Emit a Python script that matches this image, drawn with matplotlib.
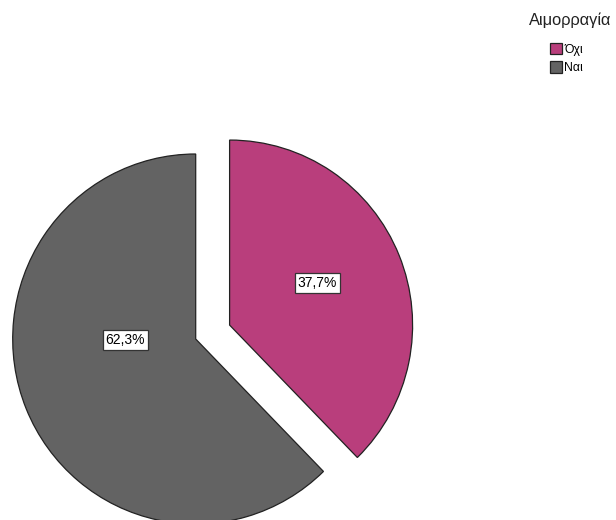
import matplotlib
matplotlib.use("Agg")
import matplotlib.pyplot as plt
import numpy as np

plt.rcParams['font.family'] = ['Liberation Sans', 'DejaVu Sans']

categories = ['Όχι', 'Ναι']
shares = [37.7, 62.3]
colors = ['#B93E7C', '#636363']
legend_title = 'Αιμορραγία'

W, H = 616, 520
sx = 183 / 185  # horizontal pixels per data unit

fig = plt.figure(figsize=(W / 100, H / 100), dpi=100)
ax = fig.add_axes([0, 0, 1, 1])

center = (195.7 / sx, H - 339)
radius = 185
wedges, _ = ax.pie(shares, colors=colors, startangle=90, counterclock=False,
                   center=center, radius=radius, explode=[37, 0],
                   wedgeprops=dict(edgecolor='#222222', linewidth=0.9))

ax.set_xlim(0, W / sx)
ax.set_ylim(0, H)
ax.set_aspect('auto')
ax.axis('off')

# percentage labels, placed relative to each wedge's apex
label_offsets = [(0.53, 25.4), (0.386, 180.8)]
for w, val, (dist, ang) in zip(wedges, shares, label_offsets):
    cx, cy = w.center
    x = cx + dist * radius * np.cos(np.radians(ang))
    y = cy + dist * radius * np.sin(np.radians(ang))
    ax.text(x, y, f"{val:.1f}%".replace('.', ','), ha='center', va='center',
            fontsize=10, color='black',
            bbox=dict(boxstyle='square,pad=0.2', facecolor='white',
                      edgecolor='#333333', linewidth=0.9))

fig.text(570 / W, 1 - 20 / H, legend_title, ha='center', va='center',
         fontsize=11.8, color='#222222')

leg = ax.legend(wedges, categories, loc='upper left',
                bbox_to_anchor=(549.5 / W, 1 - 42.5 / H), frameon=False,
                fontsize=8.8, handlelength=1.0, handleheight=1.12,
                handletextpad=0.2, labelspacing=0.45, borderpad=0,
                borderaxespad=0)
for h in leg.legend_handles:
    h.set_edgecolor('#222222')
    h.set_linewidth(0.9)

fig.savefig('out.png', dpi=100)
